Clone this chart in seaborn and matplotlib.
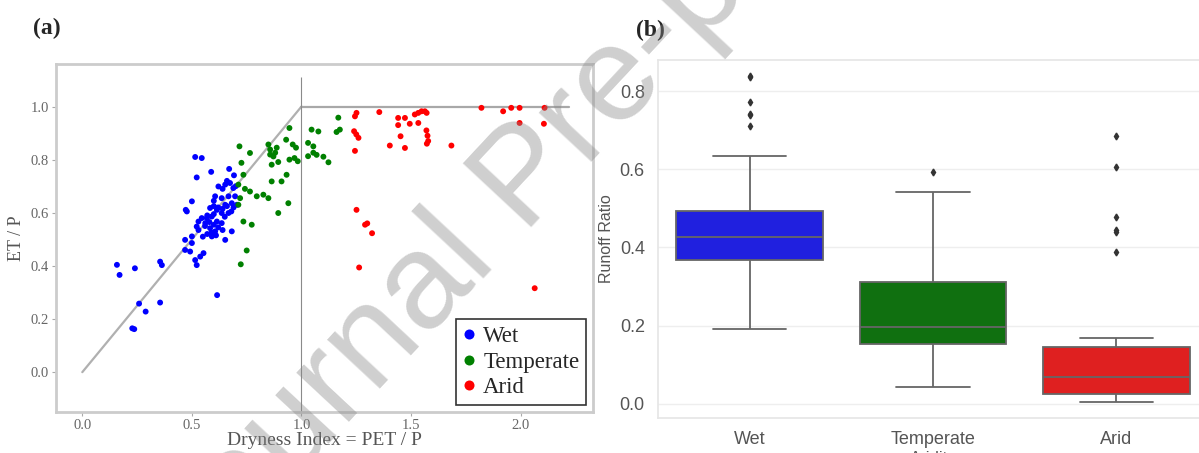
import matplotlib
matplotlib.use("Agg")
import matplotlib.pyplot as plt
from matplotlib.font_manager import FontProperties
import numpy as np
import pandas as pd
import seaborn as sns

# ---- catchment classes -------------------------------------------------
classes = ["Wet", "Temperate", "Arid"]
class_colors = ["blue", "green", "red"]

# Dryness index (PET / P) and evaporative index (ET / P) per catchment
wet_dryness = [0.515, 0.545, 0.522, 0.588, 0.670, 0.692, 0.500, 0.472, 0.477, 0.621,
               0.652, 0.674, 0.689, 0.606, 0.636, 0.667, 0.697, 0.652, 0.682, 0.705,
               0.583, 0.614, 0.636, 0.667, 0.545, 0.568, 0.591, 0.530, 0.561, 0.614,
               0.636, 0.522, 0.583, 0.606, 0.682, 0.652, 0.591, 0.500, 0.469, 0.500,
               0.469, 0.492, 0.553, 0.538, 0.515, 0.522, 0.355, 0.363, 0.615, 0.158,
               0.170, 0.240, 0.259, 0.289, 0.355, 0.228, 0.237,
               0.640, 0.660, 0.700, 0.600, 0.620, 0.640, 0.660, 0.680, 0.600, 0.570,
               0.650, 0.690, 0.600, 0.560, 0.580, 0.600, 0.620, 0.640, 0.570, 0.590,
               0.550, 0.610, 0.530]
wet_et_ratio = [0.810, 0.806, 0.733, 0.754, 0.765, 0.741, 0.643, 0.611, 0.605, 0.699,
                0.706, 0.712, 0.693, 0.662, 0.655, 0.662, 0.662, 0.630, 0.636, 0.630,
                0.618, 0.611, 0.599, 0.599, 0.580, 0.580, 0.586, 0.567, 0.561, 0.567,
                0.561, 0.548, 0.542, 0.530, 0.530, 0.498, 0.511, 0.511, 0.498, 0.486,
                0.460, 0.454, 0.448, 0.435, 0.422, 0.403, 0.416, 0.403, 0.290, 0.404,
                0.366, 0.391, 0.258, 0.228, 0.262, 0.165, 0.162,
                0.690, 0.720, 0.700, 0.645, 0.620, 0.615, 0.625, 0.605, 0.595, 0.590,
                0.585, 0.620, 0.625, 0.550, 0.565, 0.555, 0.545, 0.535, 0.520, 0.525,
                0.510, 0.515, 0.535]

temperate_dryness = [1.168, 1.175, 1.160, 1.046, 1.077, 0.945, 0.849, 0.857, 0.857, 0.880,
                     0.887, 0.872, 0.930, 0.960, 0.975, 0.968, 0.983, 0.945, 1.030, 1.054,
                     1.054, 1.030, 1.069, 1.100, 1.123, 0.717, 0.765, 0.726, 0.735, 0.864,
                     0.894, 0.932, 0.909, 0.864, 0.712, 0.742, 0.765, 0.796, 0.826, 0.849,
                     0.720, 0.712, 0.940, 0.894, 0.735, 0.773, 0.750, 0.723]
temperate_et_ratio = [0.958, 0.913, 0.904, 0.913, 0.906, 0.919, 0.857, 0.838, 0.819, 0.826,
                      0.845, 0.812, 0.875, 0.857, 0.845, 0.806, 0.794, 0.800, 0.863, 0.850,
                      0.826, 0.813, 0.818, 0.811, 0.790, 0.850, 0.825, 0.788, 0.743, 0.781,
                      0.791, 0.743, 0.718, 0.718, 0.706, 0.690, 0.680, 0.662, 0.668, 0.655,
                      0.655, 0.630, 0.636, 0.599, 0.567, 0.555, 0.458, 0.406]

arid_dryness = [1.251, 1.244, 1.355, 1.240, 1.250, 1.260, 1.244, 1.403, 1.441, 1.472,
                1.441, 1.452, 1.494, 1.472, 1.517, 1.533, 1.548, 1.563, 1.571, 1.533,
                1.570, 1.575, 1.578, 1.572, 1.684, 1.821, 1.920, 1.957, 1.995, 2.109,
                1.995, 2.106, 1.251, 1.290, 1.300, 1.322, 1.263, 2.064]
arid_et_ratio = [0.976, 0.963, 0.979, 0.907, 0.895, 0.882, 0.833, 0.853, 0.957, 0.957,
                 0.930, 0.888, 0.935, 0.844, 0.970, 0.976, 0.982, 0.982, 0.976, 0.938,
                 0.910, 0.890, 0.870, 0.860, 0.853, 0.995, 0.982, 0.995, 0.995, 0.995,
                 0.938, 0.935, 0.611, 0.555, 0.560, 0.523, 0.394, 0.316]

# Budyko limits: energy limit (ET = PET) and water limit (ET = P)
energy_limit_x = [0.0, 1.0]
energy_limit_y = [0.0, 1.0]
water_limit_x = [1.0, 2.22]
water_limit_y = [1.0, 1.0]

x_ticks = [0.0, 0.5, 1.0, 1.5, 2.0]
y_ticks_a = [0.0, 0.2, 0.4, 0.6, 0.8, 1.0]
y_ticks_b = [0.0, 0.2, 0.4, 0.6, 0.8]

# ---- tidy table --------------------------------------------------------
frames = []
for name, dry, et in [("Wet", wet_dryness, wet_et_ratio),
                      ("Temperate", temperate_dryness, temperate_et_ratio),
                      ("Arid", arid_dryness, arid_et_ratio)]:
    frames.append(pd.DataFrame({"Dryness": dry, "ET/P": et, "Aridity": name}))
df = pd.concat(frames, ignore_index=True)
# long-term water balance: Q/P = 1 - ET/P
df["Runoff Ratio"] = 1.0 - df["ET/P"]

palette = dict(zip(classes, class_colors))

# ---- figure ------------------------------------------------------------
sns.set_theme(style="whitegrid", font="Liberation Sans")
W, H = 1199, 453
fig = plt.figure(figsize=(W / 100, H / 100), dpi=100)

serif = "Liberation Serif"
ax_a = fig.add_axes([56 / W, (H - 412) / H, 537 / W, 348 / H])
ax_b = fig.add_axes([658 / W, (H - 418) / H, 550 / W, 358 / H])

# (a) Budyko space
ax_a.grid(False)
ax_a.set_facecolor("white")
ax_a.plot(energy_limit_x, energy_limit_y, color="#b0b0b0", lw=1.6, zorder=1)
ax_a.plot(water_limit_x, water_limit_y, color="#a8a8a8", lw=1.6, zorder=1)
ax_a.vlines(1.0, -0.15, 1.11, color="#8a8a8a", lw=0.8, zorder=1)
sns.scatterplot(data=df, x="Dryness", y="ET/P", hue="Aridity", hue_order=classes,
                palette=palette, s=18, linewidth=0, ax=ax_a, zorder=3)
ax_a.set_xlim(-0.12, 2.33)
ax_a.set_ylim(-0.15, 1.16)
ax_a.set_xticks(x_ticks)
ax_a.set_yticks(y_ticks_a)
ax_a.set_xticklabels([f"{v:.1f}" for v in x_ticks])
ax_a.set_yticklabels([f"{v:.1f}" for v in y_ticks_a])
ax_a.tick_params(axis="both", which="major", length=3, width=0.8, color="#aaaaaa",
                 labelsize=10.5, labelcolor="#666666", labelfontfamily=serif, pad=2,
                 bottom=True, left=True)
for sp in ax_a.spines.values():
    sp.set_color("#cccccc")
    sp.set_linewidth(2.0)
ax_a.set_xlabel("Dryness Index = PET / P", fontsize=14, family=serif,
                color="#555555", labelpad=0)
ax_a.set_ylabel("ET / P", fontsize=13, family=serif, color="#555555", labelpad=4)
handles, labels = ax_a.get_legend_handles_labels()
leg = ax_a.legend(handles, labels, loc="lower right", frameon=True, fancybox=False,
                  prop=FontProperties(family=serif, size=16.5), markerscale=1.7,
                  handlelength=0.6, handletextpad=0.3, borderpad=0.3,
                  labelspacing=0.2, borderaxespad=0.3, framealpha=1)
leg.get_frame().set_edgecolor("#333333")
leg.get_frame().set_linewidth(1.2)

# (b) runoff ratio by aridity class
sns.boxplot(data=df, x="Aridity", y="Runoff Ratio", hue="Aridity", order=classes,
            hue_order=classes, palette=palette, saturation=0.75, width=0.8,
            linecolor="#666666", linewidth=1.3, legend=False, ax=ax_b,
            flierprops=dict(marker="d", markersize=3.5, markerfacecolor="#333333",
                            markeredgecolor="#333333"))
ax_b.set_yticks(y_ticks_b)
ax_b.set_yticklabels([f"{v:.1f}" for v in y_ticks_b])
ax_b.tick_params(axis="both", labelsize=13, labelcolor="#555555")
ax_b.set_ylabel("Runoff Ratio", fontsize=11.5, color="#555555", labelpad=4)
ax_b.set_xlabel("Aridity", fontsize=12, color="#555555", labelpad=2)
for sp in ax_b.spines.values():
    sp.set_color("#e6e6e6")
ax_b.grid(True, axis="y", color="#eeeeee")

# panel tags
fig.text(33 / W, 1 - 28 / H, "(a)", fontsize=17, fontweight="bold", family=serif,
         va="center", ha="left")
fig.text(636 / W, 1 - 30 / H, "(b)", fontsize=17, fontweight="bold", family=serif,
         va="center", ha="left")

# watermark
fig.text(527 / W, 1 - 180 / H, "Journal Pre-proof", rotation=47, fontsize=98,
         color="#888888", alpha=0.4, ha="center", va="center",
         rotation_mode="anchor", family="Liberation Sans", zorder=10)

fig.savefig("out.png", dpi=100)
